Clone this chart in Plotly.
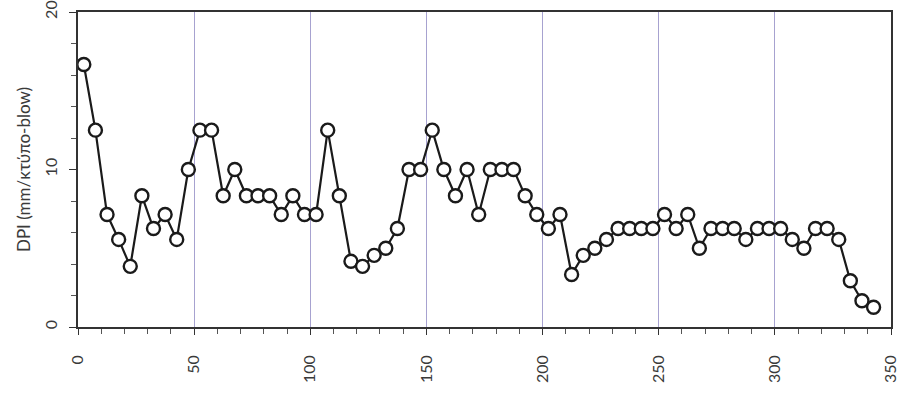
import plotly.graph_objects as go

# Penetration depth (mm) at mid-point of each 5 mm-step interval
depth = [2.5 + 5 * k for k in range(69)]

# DPI per interval (mm/blow)
dpi = [
    16.67, 12.5, 7.14, 5.56, 3.85, 8.33, 6.25, 7.14, 5.56, 10.0,
    12.5, 12.5, 8.33, 10.0, 8.33, 8.33, 8.33, 7.14, 8.33, 7.14,
    7.14, 12.5, 8.33, 4.17, 3.85, 4.55, 5.0, 6.25, 10.0, 10.0,
    12.5, 10.0, 8.33, 10.0, 7.14, 10.0, 10.0, 10.0, 8.33, 7.14,
    6.25, 7.14, 3.33, 4.55, 5.0, 5.56, 6.25, 6.25, 6.25, 6.25,
    7.14, 6.25, 7.14, 5.0, 6.25, 6.25, 6.25, 5.56, 6.25, 6.25,
    6.25, 5.56, 5.0, 6.25, 6.25, 5.56, 2.94, 1.67, 1.25,
]

x_ticks = [0, 50, 100, 150, 200, 250, 300, 350]
y_ticks = [0, 10, 20]

fig = go.Figure(
    go.Scatter(
        x=depth,
        y=dpi,
        mode="lines+markers",
        line=dict(color="#1a1a1a", width=2.2),
        marker=dict(size=13, color="white", line=dict(color="#1a1a1a", width=2.4)),
        showlegend=False,
        hoverinfo="x+y",
    )
)

font = dict(family="Lato, 'Open Sans', sans-serif", size=16, color="#3a3a3a")

fig.update_layout(
    width=900,
    height=393,
    margin=dict(l=78, r=9, t=12, b=66),
    paper_bgcolor="white",
    plot_bgcolor="white",
    font=font,
)

fig.update_xaxes(
    range=[0, 350],
    tickvals=x_ticks,
    ticktext=[str(v) for v in x_ticks],
    tickangle=-90,
    ticks="outside",
    ticklen=6,
    tickwidth=1.2,
    tickcolor="#333333",
    minor=dict(dtick=10, tick0=0, ticks="outside", ticklen=5, tickwidth=1, tickcolor="#555555", showgrid=False),
    showgrid=True,
    gridcolor="#a7a2d0",
    gridwidth=1,
    showline=True,
    linecolor="#333333",
    linewidth=1.6,
    mirror=True,
    zeroline=False,
    ticklabelstandoff=14,
    ticklabeloverflow="allow",
    automargin=False,
)

fig.update_yaxes(
    range=[0, 20],
    tickvals=y_ticks,
    ticktext=[str(v) for v in y_ticks],
    tickangle=-90,
    ticks="outside",
    ticklen=7,
    tickwidth=1.2,
    tickcolor="#333333",
    minor=dict(dtick=2, tick0=0, ticks="outside", ticklen=5, tickwidth=1, tickcolor="#555555", showgrid=False),
    showgrid=False,
    showline=True,
    linecolor="#333333",
    linewidth=1.6,
    mirror=True,
    zeroline=False,
    ticklabelstandoff=6,
    ticklabeloverflow="allow",
    automargin=False,
    title=dict(text="DPI (mm/κτύπο-blow)", font=dict(size=17, color="#3a3a3a"), standoff=6),
)

fig.write_html("out.html")
